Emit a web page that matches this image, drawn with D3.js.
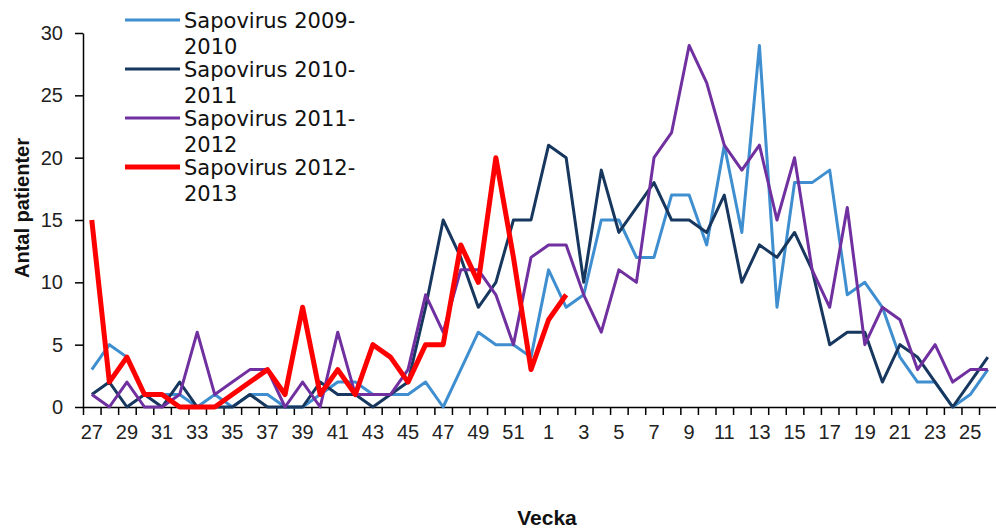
<!DOCTYPE html>
<html>
<head>
<meta charset="utf-8">
<script src="https://cdn.jsdelivr.net/npm/d3@7"></script>
<style>
  html, body { margin: 0; padding: 0; background: #fff; }
  svg { display: block; }
  .tick text { font-family: "Liberation Sans", Arial, sans-serif; font-size: 20px; fill: #222; }
  .legend text { font-family: "DejaVu Sans", Verdana, sans-serif; font-size: 21px; fill: #111; }
  .ttl { font-family: "Liberation Sans", Arial, sans-serif; font-weight: bold; fill: #111; }
</style>
</head>
<body>
<svg id="chart" width="996" height="531"></svg>
<script>
// week labels: season runs from week 27 to week 26 the following year
const WEEKS = [27, 28, 29, 30, 31, 32, 33, 34, 35, 36, 37, 38, 39, 40, 41, 42, 43, 44, 45, 46, 47, 48, 49, 50, 51, 52,
  1, 2, 3, 4, 5, 6, 7, 8, 9, 10, 11, 12, 13, 14, 15, 16, 17, 18, 19, 20, 21, 22, 23, 24, 25, 26];
const Y_TICKS = [0, 5, 10, 15, 20, 25, 30];

const S0910 = [3, 5, 4, 1, 1, 1, 0, 1, 0, 1, 1, 0, 0, 1, 2, 2, 1, 1, 1, 2, 0, 3, 6, 5, 5, 4,
  11, 8, 9, 15, 15, 12, 12, 17, 17, 13, 21, 14, 29, 8, 18, 18, 19, 9, 10, 8, 4, 2, 2, 0, 1, 3];
const S1011 = [1, 2, 0, 1, 0, 2, 0, 0, 0, 1, 0, 0, 0, 2, 1, 1, 0, 1, 2, 8, 15, 12, 8, 10, 15, 15,
  21, 20, 10, 19, 14, 16, 18, 15, 15, 14, 17, 10, 13, 12, 14, 11, 5, 6, 6, 2, 5, 4, 2, 0, 2, 4];
const S1112 = [1, 0, 2, 0, 0, 1, 6, 1, 2, 3, 3, 0, 2, 0, 6, 1, 1, 1, 3, 9, 6, 11, 11, 9, 5, 12,
  13, 13, 9, 6, 11, 10, 20, 22, 29, 26, 21, 19, 21, 15, 20, 11, 8, 16, 5, 8, 7, 3, 5, 2, 3, 3];
const S1213 = [15, 2, 4, 1, 1, 0, 0, 0, 1, 2, 3, 1, 8, 1, 3, 1, 5, 4, 2, 5, 5, 13, 10, 20, 12, 3,
  7, 9];

const SERIES = [
  { label: ["Sapovirus 2009-", "2010"], values: S0910, color: "#3f8fd0", width: 3 },
  { label: ["Sapovirus 2010-", "2011"], values: S1011, color: "#17375e", width: 3 },
  { label: ["Sapovirus 2011-", "2012"], values: S1112, color: "#7030a0", width: 3 },
  { label: ["Sapovirus 2012-", "2013"], values: S1213, color: "#ff0000", width: 5 },
];

const svg = d3.select("#chart");
const L = 83, R = 996.6, T = 33, B = 407;

// one band per week; ticks sit on the band edges, points in the band centres
const x = d3.scaleBand().domain(d3.range(WEEKS.length)).range([L, R]).padding(0);
const xEdge = d3.scaleLinear().domain([0, WEEKS.length]).range([L, R]);
const y = d3.scaleLinear().domain([0, 30]).range([B, T]);

// x axis: tick marks at category boundaries
svg.append("g").attr("transform", `translate(0,${B})`)
  .call(d3.axisBottom(xEdge).tickValues(d3.range(WEEKS.length + 1)).tickFormat("").tickSize(8).tickSizeOuter(0))
  .call(g => g.selectAll("line, path").attr("stroke", "#000").attr("stroke-width", 1.5));
// x labels, every other week
svg.append("g").attr("transform", `translate(0,${B})`)
  .call(d3.axisBottom(x).tickValues(d3.range(0, WEEKS.length, 2)).tickFormat(i => WEEKS[i]).tickSize(0).tickPadding(18))
  .call(g => g.select(".domain").remove());

svg.append("g").attr("transform", `translate(${L},0)`)
  .call(d3.axisLeft(y).tickValues(Y_TICKS).tickSize(8).tickPadding(12).tickSizeOuter(0))
  .call(g => g.selectAll("line, path").attr("stroke", "#000").attr("stroke-width", 1.5));

const line = d3.line().x((d, i) => x(i) + x.bandwidth() / 2).y(d => y(d));
svg.append("g").selectAll("path").data(SERIES).join("path")
  .attr("d", s => line(s.values))
  .attr("fill", "none").attr("stroke", s => s.color).attr("stroke-width", s => s.width)
  .attr("stroke-linejoin", "round");

// legend
const lg = svg.append("g").attr("class", "legend").selectAll("g").data(SERIES).join("g")
  .attr("transform", (s, i) => `translate(0,${20 + 49 * i})`);
lg.append("line").attr("x1", 125).attr("x2", 180).attr("y1", 0).attr("y2", 0)
  .attr("stroke", s => s.color).attr("stroke-width", s => s.width);
lg.append("text").attr("x", 184).attr("y", 7.5).text(s => s.label[0]);
lg.append("text").attr("x", 184).attr("y", 34).text(s => s.label[1]);

svg.append("text").attr("class", "ttl").attr("font-size", 20)
  .attr("transform", "translate(29,208) rotate(-90)").attr("text-anchor", "middle").text("Antal patienter");
svg.append("text").attr("class", "ttl").attr("font-size", 21)
  .attr("x", 547).attr("y", 525).attr("text-anchor", "middle").text("Vecka");
</script>
</body>
</html>
